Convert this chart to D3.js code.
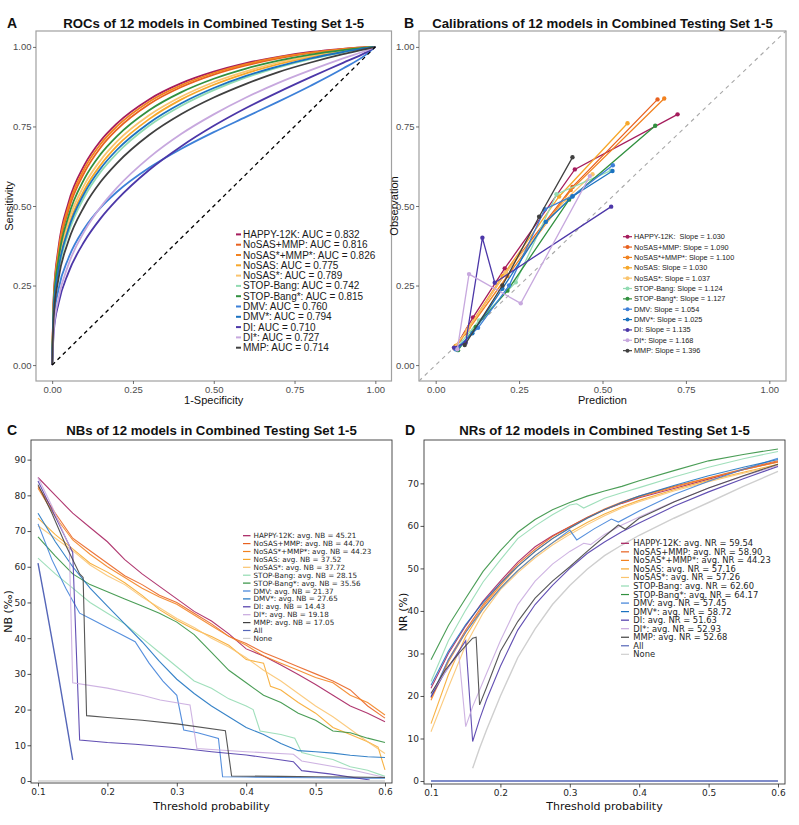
<!DOCTYPE html>
<html><head><meta charset="utf-8">
<script src="https://cdn.jsdelivr.net/npm/d3@7"></script>
<style>body{margin:0;background:#fff}svg{display:block}</style>
</head><body><svg id="chart" width="799" height="825"></svg>
<script>
// ---------------- data ----------------
const modelNames = ["HAPPY-12K","NoSAS+MMP","NoSAS*+MMP*","NoSAS","NoSAS*","STOP-Bang","STOP-Bang*","DMV","DMV*","DI","DI*","MMP"];
const modelColors = ["#a51c5c","#e8611f","#f2821f","#f7a72a","#fac46e","#92dbb2","#31903f","#3d80d8","#1b72c0","#4c37a8","#c7a8de","#404040"];
const aucLabels = ["0.832","0.816","0.826","0.775","0.789","0.742","0.815","0.760","0.794","0.710","0.727","0.714"];
const slopeLabels = ["1.030","1.090","1.100","1.030","1.037","1.124","1.127","1.054","1.025","1.135","1.168","1.396"];
const avgNBLabels = ["45.21","44.70","44.23","37.52","37.72","28.15","35.56","21.37","27.65","14.43","19.18","17.05"];
const avgNRLabels = ["59.54","58.90","44.23","57.16","57.26","62.60","64.17","57.45","58.72","51.63","52.93","52.68"];
const refNames = ["All","None"];
const refColors = ["#5566b8","#cfcfcf"];

const unitTicks = [0,0.25,0.5,0.75,1];
const thresholdTicks = [0.1,0.2,0.3,0.4,0.5,0.6];
const nbTicks = [0,10,20,30,40,50,60,70,80,90];
const nrTicks = [0,10,20,30,40,50,60,70];

// ROC: false positive rates and sensitivities
const rocFpr = [0,0.005,0.02,0.05,0.1,0.15,0.2,0.3,0.4,0.5,0.6,0.7,0.8,0.9,0.97,1];
const rocHAPPY = [0,0.221,0.372,0.509,0.629,0.705,0.759,0.835,0.886,0.922,0.949,0.969,0.984,0.994,0.999,1];
const rocNoSASMMP = [0,0.203,0.350,0.485,0.606,0.684,0.740,0.820,0.874,0.913,0.942,0.964,0.981,0.993,0.998,1];
const rocNoSASsMMPs = [0,0.212,0.361,0.497,0.618,0.695,0.750,0.828,0.880,0.918,0.946,0.967,0.982,0.993,0.999,1];
const rocNoSAS = [0,0.176,0.307,0.433,0.551,0.629,0.688,0.773,0.835,0.881,0.917,0.946,0.969,0.987,0.997,1];
const rocNoSASs = [0,0.186,0.321,0.449,0.567,0.644,0.702,0.785,0.844,0.889,0.923,0.951,0.972,0.988,0.997,1];
const rocSTOPBang = [0,0.168,0.294,0.414,0.529,0.607,0.665,0.752,0.815,0.864,0.904,0.936,0.962,0.983,0.995,1];
const rocSTOPBangs = [0,0.195,0.335,0.466,0.586,0.663,0.719,0.801,0.858,0.900,0.932,0.957,0.976,0.990,0.998,1];
const rocDMV = [0,0.140,0.240,0.335,0.430,0.495,0.544,0.620,0.680,0.732,0.780,0.828,0.878,0.932,0.975,1];
const rocDMVs = [0,0.176,0.304,0.426,0.541,0.618,0.676,0.761,0.823,0.871,0.909,0.939,0.964,0.984,0.996,1];
const rocDI = [0,0.105,0.195,0.290,0.389,0.461,0.519,0.613,0.688,0.752,0.808,0.858,0.905,0.950,0.982,1];
const rocDIs = [0,0.113,0.211,0.315,0.421,0.497,0.557,0.652,0.727,0.788,0.841,0.887,0.927,0.964,0.988,1];
const rocMMP = [0,0.156,0.274,0.389,0.500,0.576,0.634,0.723,0.789,0.841,0.884,0.921,0.951,0.977,0.993,1];

// Calibration: [prediction, observation]
const calHAPPY = [[0.057,0.052],[0.112,0.15],[0.207,0.304],[0.417,0.615],[0.725,0.788]];
const calNoSASMMP = [[0.06,0.06],[0.095,0.11],[0.21,0.29],[0.41,0.56],[0.665,0.835]];
const calNoSASsMMPs = [[0.058,0.055],[0.09,0.10],[0.215,0.28],[0.405,0.55],[0.685,0.838]];
const calNoSAS = [[0.06,0.06],[0.10,0.12],[0.20,0.28],[0.37,0.53],[0.575,0.76]];
const calNoSASs = [[0.055,0.055],[0.095,0.11],[0.21,0.29],[0.39,0.52],[0.47,0.60]];
const calSTOPBang = [[0.06,0.05],[0.13,0.14],[0.24,0.26],[0.362,0.537],[0.525,0.611]];
const calSTOPBangs = [[0.067,0.047],[0.12,0.12],[0.215,0.234],[0.40,0.52],[0.658,0.752]];
const calDMV = [[0.06,0.05],[0.127,0.117],[0.22,0.25],[0.327,0.49],[0.41,0.531],[0.531,0.628]];
const calDMVs = [[0.065,0.05],[0.11,0.10],[0.20,0.24],[0.33,0.45],[0.41,0.53],[0.53,0.61]];
const calDI = [[0.055,0.055],[0.09,0.07],[0.14,0.40],[0.177,0.259],[0.526,0.498]];
const calDIs = [[0.065,0.05],[0.10,0.286],[0.255,0.194],[0.462,0.594]];
const calMMP = [[0.087,0.063],[0.20,0.25],[0.31,0.466],[0.41,0.653]];

// Net benefit (per mille): [threshold, NB]
const nbHAPPY = [[0.10,85],[0.125,80],[0.15,75],[0.175,71],[0.20,67],[0.225,62],[0.25,58],[0.275,54.5],[0.30,51],[0.325,47.5],[0.35,44.8],[0.375,41.2],[0.40,37],[0.425,35],[0.45,32.5],[0.475,29.8],[0.50,27],[0.525,24],[0.55,21],[0.575,19],[0.60,16.6]];
const nbNoSASMMP = [[0.10,82.5],[0.125,75],[0.15,68],[0.175,64.5],[0.20,61],[0.225,57.5],[0.25,55],[0.275,52],[0.30,50],[0.325,47],[0.35,44],[0.375,40.5],[0.40,38.5],[0.425,36],[0.45,34],[0.475,32],[0.50,30],[0.525,28],[0.55,25.5],[0.575,21],[0.60,17.6]];
const nbNoSASsMMPs = [[0.10,82],[0.125,74],[0.15,67.5],[0.175,63.5],[0.20,60],[0.225,57],[0.25,54],[0.275,51.5],[0.30,49.5],[0.325,46.5],[0.35,43.5],[0.375,40.5],[0.40,38],[0.425,35],[0.45,33],[0.475,31],[0.50,29],[0.525,27.5],[0.55,24],[0.575,22],[0.60,18.5]];
const nbNoSAS = [[0.10,73.6],[0.125,69],[0.15,65],[0.175,61],[0.20,58.5],[0.225,55.5],[0.25,52],[0.275,48],[0.30,45],[0.325,42.5],[0.35,40.5],[0.375,38],[0.40,34],[0.425,33],[0.435,26.5],[0.45,25.5],[0.475,22],[0.50,19],[0.525,15],[0.55,13],[0.575,11],[0.59,9.5],[0.60,3.1]];
const nbNoSASs = [[0.10,71.5],[0.125,68],[0.15,64.5],[0.175,60.5],[0.20,57.5],[0.225,55],[0.25,51.5],[0.275,48.5],[0.30,45.5],[0.325,43],[0.35,40],[0.375,37.5],[0.40,34.5],[0.425,31],[0.45,28],[0.475,24.5],[0.50,21],[0.525,18],[0.55,14.5],[0.575,11],[0.60,7.7]];
const nbSTOPBang = [[0.10,62.4],[0.125,58],[0.15,54],[0.175,50],[0.20,47],[0.225,44],[0.25,40],[0.275,36],[0.30,32],[0.325,28],[0.35,26],[0.375,23],[0.40,21],[0.41,20],[0.42,14],[0.45,13],[0.47,12],[0.48,8],[0.50,7],[0.525,6],[0.55,4],[0.575,3],[0.60,1.3]];
const nbSTOPBangs = [[0.10,68.4],[0.125,63],[0.15,58],[0.175,55],[0.20,53],[0.225,51],[0.25,49],[0.275,47],[0.30,44.5],[0.325,41],[0.35,36],[0.375,31],[0.40,27.5],[0.425,24],[0.45,22],[0.475,19],[0.50,17],[0.525,14],[0.55,13.5],[0.575,12],[0.60,10.8]];
const nbDMV = [[0.10,72],[0.12,62],[0.14,54],[0.16,47],[0.18,45],[0.20,43],[0.22,41],[0.24,39],[0.26,33],[0.28,28],[0.30,24],[0.31,14.3],[0.33,13.5],[0.36,11.9],[0.366,1.2],[0.40,1.1],[0.45,1.0],[0.50,0.9],[0.55,0.8],[0.60,0.8]];
const nbDMVs = [[0.10,75],[0.125,67],[0.15,60],[0.175,54],[0.20,49],[0.225,44],[0.25,39],[0.275,33.5],[0.30,28.5],[0.325,24.5],[0.35,21],[0.375,18],[0.40,15],[0.425,13],[0.45,10.5],[0.475,8.5],[0.50,8.2],[0.525,7.8],[0.55,7.2],[0.575,6.8],[0.60,6.6]];
const nbDI = [[0.10,84],[0.12,76],[0.14,68],[0.15,64],[0.16,11.5],[0.20,10.8],[0.24,10.3],[0.30,9.3],[0.35,8.2],[0.40,7.3],[0.468,5.4],[0.48,2.9],[0.52,2.0],[0.578,0.3]];
const nbDIs = [[0.10,85],[0.12,77],[0.14,68],[0.145,66],[0.15,27.5],[0.20,26],[0.25,24],[0.276,22.7],[0.319,21.3],[0.329,9.1],[0.40,8.2],[0.468,7.5],[0.48,5.6],[0.55,3.2],[0.60,1.0]];
const nbMMP = [[0.10,83],[0.12,75],[0.14,66],[0.16,58],[0.165,57],[0.17,18.3],[0.20,17.8],[0.25,17],[0.30,16],[0.37,14.1],[0.379,1.4],[0.45,1.3],[0.50,1.2],[0.55,1.1],[0.60,1.0]];
const nbAll = [[0.10,61],[0.11,50.6],[0.12,39.8],[0.13,28.8],[0.14,17.4],[0.15,5.9]];
const nbNone = [[0.10,0],[0.60,0]];

// Net reduction (%): [threshold, NR]
const nrHAPPY = [[0.10,21.8],[0.125,30],[0.15,36.5],[0.175,42.3],[0.20,47],[0.225,51.5],[0.25,55.1],[0.275,57.7],[0.30,59.8],[0.325,62],[0.35,63.8],[0.375,65.3],[0.40,66.6],[0.45,68.8],[0.50,71],[0.55,73.2],[0.60,75.1]];
const nrNoSASMMP = [[0.10,19.5],[0.125,28.5],[0.15,35.5],[0.175,41.5],[0.20,46.5],[0.225,51],[0.25,54.5],[0.275,57.5],[0.30,59.8],[0.325,62],[0.35,64],[0.375,65.6],[0.40,67],[0.45,69.3],[0.50,71.3],[0.55,73.4],[0.60,75.3]];
const nrNoSASsMMPs = [[0.10,19],[0.125,28],[0.15,35],[0.175,41],[0.20,46],[0.225,50.5],[0.25,54],[0.275,57],[0.30,59.5],[0.325,61.8],[0.35,63.8],[0.375,65.4],[0.40,66.8],[0.45,69.1],[0.50,71.2],[0.55,73.2],[0.60,75.0]];
const nrNoSAS = [[0.10,13.5],[0.125,25],[0.15,34],[0.175,40.5],[0.20,45.5],[0.225,49.5],[0.25,53],[0.275,56],[0.30,58.5],[0.325,60.8],[0.35,62.8],[0.375,64.5],[0.40,66],[0.45,68.5],[0.50,70.7],[0.55,72.6],[0.60,74.5]];
const nrNoSASs = [[0.10,11.6],[0.125,22],[0.15,32],[0.175,39.5],[0.20,45],[0.225,49],[0.25,52.5],[0.275,55.5],[0.30,58],[0.325,60.3],[0.35,62.4],[0.375,64.2],[0.40,65.7],[0.45,68.2],[0.50,70.4],[0.55,72.4],[0.60,74.2]];
const nrSTOPBang = [[0.10,23.4],[0.125,33],[0.15,40.2],[0.175,46.8],[0.20,52],[0.225,57],[0.25,60],[0.275,62.6],[0.30,64.9],[0.31,65.2],[0.32,64.2],[0.35,66.5],[0.375,67.8],[0.40,69],[0.45,71.5],[0.50,73.8],[0.55,75.8],[0.60,77.5]];
const nrSTOPBangs = [[0.10,28.5],[0.125,36.5],[0.15,43],[0.175,49.3],[0.20,54.2],[0.225,58.5],[0.25,61.5],[0.275,63.8],[0.30,65.5],[0.325,67],[0.35,68.2],[0.375,69.3],[0.40,70.6],[0.45,73],[0.50,75.3],[0.55,76.8],[0.60,78.1]];
const nrDMV = [[0.10,19.8],[0.125,28.5],[0.15,35],[0.175,40.5],[0.20,45.3],[0.225,49.5],[0.25,53],[0.275,56],[0.30,59],[0.31,56.7],[0.335,59.3],[0.36,61.6],[0.37,60.9],[0.40,63.5],[0.45,67.4],[0.50,70.5],[0.55,73.3],[0.60,75.9]];
const nrDMVs = [[0.10,22.5],[0.125,30.5],[0.15,36.8],[0.175,42],[0.20,46.5],[0.225,50.5],[0.25,54],[0.275,57],[0.30,59.5],[0.325,61.8],[0.35,63.8],[0.375,65.5],[0.40,67],[0.45,69.5],[0.50,71.8],[0.55,73.8],[0.60,75.6]];
const nrDI = [[0.10,19.8],[0.12,25.5],[0.14,30.5],[0.15,33],[0.16,9.3],[0.17,14.5],[0.18,19.1],[0.20,27],[0.225,35.5],[0.25,41.5],[0.275,46],[0.30,50],[0.325,53.5],[0.35,56.2],[0.375,58.6],[0.40,60.7],[0.45,64.6],[0.50,68],[0.55,71.1],[0.60,74]];
const nrDIs = [[0.10,20.6],[0.12,25.5],[0.14,30],[0.15,12.8],[0.16,17.5],[0.18,25.3],[0.20,33],[0.225,41.5],[0.25,47],[0.275,51],[0.30,54],[0.32,55.9],[0.33,55.6],[0.35,58],[0.375,60.2],[0.40,62.1],[0.45,65.7],[0.50,68.9],[0.55,71.7],[0.60,74.2]];
const nrMMP = [[0.10,20.6],[0.12,26],[0.14,30],[0.16,33.6],[0.165,33.8],[0.17,17.9],[0.18,22],[0.20,30.5],[0.225,37.5],[0.25,43],[0.275,47],[0.30,50.4],[0.325,54],[0.35,57.5],[0.37,60.2],[0.38,59.2],[0.40,61.8],[0.45,65.6],[0.50,68.9],[0.55,71.8],[0.60,74.5]];
const nrAll = [[0.10,0],[0.60,0]];
const nrNone = [[0.16,3],[0.17,7.7],[0.18,12],[0.20,20],[0.225,29],[0.25,35.8],[0.275,41.5],[0.30,46],[0.325,49.8],[0.35,53],[0.375,55.5],[0.40,57.8],[0.45,61.8],[0.50,65.5],[0.55,69.3],[0.60,72.8]];

const rocSeries = [rocHAPPY,rocNoSASMMP,rocNoSASsMMPs,rocNoSAS,rocNoSASs,rocSTOPBang,rocSTOPBangs,rocDMV,rocDMVs,rocDI,rocDIs,rocMMP];
const calSeries = [calHAPPY,calNoSASMMP,calNoSASsMMPs,calNoSAS,calNoSASs,calSTOPBang,calSTOPBangs,calDMV,calDMVs,calDI,calDIs,calMMP];
const nbSeries = [nbHAPPY,nbNoSASMMP,nbNoSASsMMPs,nbNoSAS,nbNoSASs,nbSTOPBang,nbSTOPBangs,nbDMV,nbDMVs,nbDI,nbDIs,nbMMP,nbAll,nbNone];
const nrSeries = [nrHAPPY,nrNoSASMMP,nrNoSASsMMPs,nrNoSAS,nrNoSASs,nrSTOPBang,nrSTOPBangs,nrDMV,nrDMVs,nrDI,nrDIs,nrMMP,nrAll,nrNone];

// ---------------- drawing ----------------
const svg = d3.select("#chart");
const ARIAL = "'Liberation Sans', Arial, sans-serif";
const DEJAVU = "'DejaVu Sans', sans-serif";

function styleAxis(g, font, size, color){
  g.select(".domain").remove();
  g.attr("font-family", font).attr("font-size", size);
  g.selectAll("text").attr("fill", color);
  g.selectAll("line").attr("stroke", color).attr("stroke-width", 0.8);
}
function title(txt, cx, letter, lx, y){
  svg.append("text").attr("x", cx).attr("y", y).attr("text-anchor","middle")
    .attr("font-family", ARIAL).attr("font-weight","bold").attr("font-size", 13.2).attr("fill","#111").text(txt);
  svg.append("text").attr("x", lx).attr("y", y+0.5).attr("text-anchor","middle")
    .attr("font-family", ARIAL).attr("font-weight","bold").attr("font-size", 14).attr("fill","#111").text(letter);
}
function axisLabel(txt, x, y, rot, font, size){
  const t = svg.append("text").attr("text-anchor","middle").attr("font-family", font)
    .attr("font-size", size).attr("fill","#111").text(txt);
  if (rot) t.attr("transform", `translate(${x},${y}) rotate(-90)`); else t.attr("x", x).attr("y", y);
}

// ----- Panel A -----
const xA = d3.scaleLinear().domain([-0.05,1.05]).range([36,391.5]);
const yA = d3.scaleLinear().domain([-0.05,1.05]).range([381,31]);
svg.append("rect").attr("x",36).attr("y",31).attr("width",355.5).attr("height",350)
  .attr("fill","#fff").attr("stroke","#a0a0a0").attr("stroke-width",1.2);
styleAxis(svg.append("g").attr("transform","translate(0,381)")
  .call(d3.axisBottom(xA).tickValues(unitTicks).tickFormat(d3.format(".2f")).tickSize(3).tickPadding(2.5)), ARIAL, 9.5, "#4d4d4d");
styleAxis(svg.append("g").attr("transform","translate(36,0)")
  .call(d3.axisLeft(yA).tickValues(unitTicks).tickFormat(d3.format(".2f")).tickSize(3).tickPadding(1.5)), ARIAL, 9.5, "#4d4d4d");
const rocLine = d3.line().x((d,i)=>xA(rocFpr[i])).y(d=>yA(d)).curve(d3.curveMonotoneX);
rocSeries.forEach((s,i)=>{
  svg.append("path").attr("d", rocLine(s)).attr("fill","none").attr("stroke", modelColors[i]).attr("stroke-width",1.8);
});
svg.append("line").attr("x1",xA(0)).attr("y1",yA(0)).attr("x2",xA(1)).attr("y2",yA(1))
  .attr("stroke","#000").attr("stroke-width",1.3).attr("stroke-dasharray","4,3.5");
modelNames.forEach((n,i)=>{
  const y = 234.4 + i*10.3;
  svg.append("line").attr("x1",236).attr("x2",241).attr("y1",y).attr("y2",y).attr("stroke",modelColors[i]).attr("stroke-width",2);
  svg.append("text").attr("x",243).attr("y",y).attr("dy","0.35em").attr("font-family",ARIAL).attr("font-size",10)
    .attr("fill","#1a1a1a").text(`${n}: AUC = ${aucLabels[i]}`);
});
title("ROCs of 12 models in Combined Testing Set 1-5", 213.7, "A", 12, 27.5);
axisLabel("1-Specificity", 213.7, 404, false, ARIAL, 11);
axisLabel("Sensitivity", 13, 206, true, ARIAL, 11);

// ----- Panel B -----
const xB = d3.scaleLinear().domain([-0.05,1.05]).range([419,786]);
const yB = yA;
svg.append("rect").attr("x",419).attr("y",31).attr("width",367).attr("height",350)
  .attr("fill","#fff").attr("stroke","#a0a0a0").attr("stroke-width",1.2);
styleAxis(svg.append("g").attr("transform","translate(0,381)")
  .call(d3.axisBottom(xB).tickValues(unitTicks).tickFormat(d3.format(".2f")).tickSize(3).tickPadding(2.5)), ARIAL, 9.5, "#4d4d4d");
styleAxis(svg.append("g").attr("transform","translate(419,0)")
  .call(d3.axisLeft(yB).tickValues(unitTicks).tickFormat(d3.format(".2f")).tickSize(3).tickPadding(1.5)), ARIAL, 9.5, "#4d4d4d");
svg.append("line").attr("x1",xB(-0.05)).attr("y1",yB(-0.05)).attr("x2",xB(1.05)).attr("y2",yB(1.05))
  .attr("stroke","#a8a8a8").attr("stroke-width",1.1).attr("stroke-dasharray","4,4");
const calLine = d3.line().x(d=>xB(d[0])).y(d=>yB(d[1]));
calSeries.forEach((s,i)=>{
  svg.append("path").attr("d", calLine(s)).attr("fill","none").attr("stroke", modelColors[i]).attr("stroke-width",1.3);
  s.forEach(d=>svg.append("circle").attr("cx",xB(d[0])).attr("cy",yB(d[1])).attr("r",2.2).attr("fill",modelColors[i]));
});
modelNames.forEach((n,i)=>{
  const y = 236.7 + i*10.36;
  svg.append("line").attr("x1",623).attr("x2",632).attr("y1",y).attr("y2",y).attr("stroke",modelColors[i]).attr("stroke-width",1.2);
  svg.append("circle").attr("cx",627.5).attr("cy",y).attr("r",2).attr("fill",modelColors[i]);
  svg.append("text").attr("x",634).attr("y",y).attr("dy","0.35em").attr("font-family",ARIAL).attr("font-size",7.3)
    .attr("fill","#1a1a1a").style("white-space","pre").text(i===0 ? `${n}:  Slope = ${slopeLabels[i]}` : `${n}: Slope = ${slopeLabels[i]}`);
});
title("Calibrations of 12 models in Combined Testing Set 1-5", 602.5, "B", 409, 27.5);
axisLabel("Prediction", 602.5, 404, false, ARIAL, 11);
axisLabel("Observation", 398, 206, true, ARIAL, 11);

// ----- Panel C & D -----
const allNames = modelNames.concat(refNames);
const allColors = modelColors.concat(refColors);

function decisionPanel(opts){
  const x = d3.scaleLinear().domain([0.0899,0.6101]).range([opts.left, opts.right]);
  const y = d3.scaleLinear().domain(opts.yDomain).range([opts.bottom, opts.top]);
  svg.append("rect").attr("x",opts.left).attr("y",opts.top).attr("width",opts.right-opts.left).attr("height",opts.bottom-opts.top)
    .attr("fill","#fff").attr("stroke","#3a3a3a").attr("stroke-width",0.9);
  styleAxis(svg.append("g").attr("transform",`translate(0,${opts.bottom})`)
    .call(d3.axisBottom(x).tickValues(thresholdTicks).tickFormat(d3.format(".1f")).tickSize(3.5).tickPadding(2.3)), DEJAVU, 9, "#262626");
  styleAxis(svg.append("g").attr("transform",`translate(${opts.left},0)`)
    .call(d3.axisLeft(y).tickValues(opts.yTicks).tickFormat(d3.format("d")).tickSize(3.5).tickPadding(1.5)), DEJAVU, 9, "#262626");
  const ln = d3.line().x(d=>x(d[0])).y(d=>y(d[1]));
  opts.series.forEach((s,i)=>{
    svg.append("path").attr("d", ln(s)).attr("fill","none").attr("stroke", allColors[i])
      .attr("stroke-width", i>=12 ? 1.4 : 1.1).attr("stroke-opacity", i>=12 ? 1 : 0.88);
  });
  allNames.forEach((n,i)=>{
    const yy = opts.legY + i*opts.legStep;
    svg.append("line").attr("x1",opts.legX).attr("x2",opts.legX+opts.legLen).attr("y1",yy).attr("y2",yy)
      .attr("stroke",allColors[i]).attr("stroke-width",1.2);
    svg.append("text").attr("x",opts.legX+opts.legLen+opts.legGap).attr("y",yy).attr("dy","0.36em")
      .attr("font-family",DEJAVU).attr("font-size",opts.legFont).attr("fill","#262626")
      .text(i<12 ? `${n}: avg. ${opts.metric} = ${opts.labels[i]}` : n);
  });
  const cx = (opts.left+opts.right)/2;
  title(opts.title, cx, opts.letter, opts.letterX, 434.5);
  axisLabel("Threshold probability", cx, 809.5, false, DEJAVU, 11);
  axisLabel(opts.yLabel, opts.yLabelX, (opts.top+opts.bottom)/2, true, DEJAVU, 11);
}

decisionPanel({left:31, right:392, top:440, bottom:783, yDomain:[-0.56,95.5], yTicks:nbTicks, series:nbSeries,
  legX:243, legLen:7.5, legGap:3, legY:535.7, legStep:7.9, legFont:7.2, metric:"NB", labels:avgNBLabels,
  title:"NBs of 12 models in Combined Testing Set 1-5", letter:"C", letterX:12, yLabel:"NB (‰)", yLabelX:12});
decisionPanel({left:424, right:785, top:440, bottom:784, yDomain:[-0.7,80.2], yTicks:nrTicks, series:nrSeries,
  legX:621, legLen:8, legGap:4.3, legY:543.3, legStep:8.54, legFont:8.4, metric:"NR", labels:avgNRLabels,
  title:"NRs of 12 models in Combined Testing Set 1-5", letter:"D", letterX:410, yLabel:"NR (%)", yLabelX:407});
</script></body></html>
